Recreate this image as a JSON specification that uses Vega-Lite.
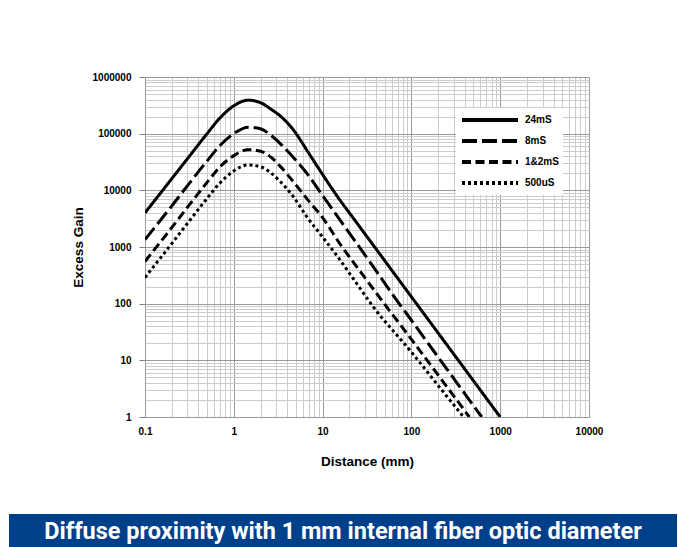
{
  "$schema": "https://vega.github.io/schema/vega-lite/v6.json",
  "background": "white",
  "padding": {"left": 9, "top": 72, "right": 0, "bottom": 0},
  "config": {"view": {"stroke": null}, "font": "Liberation Sans"},
  "datasets": {
    "curves": [
      {"series": "24mS", "distance": 0.1, "gain": 4000},
      {"series": "24mS", "distance": 0.2, "gain": 16000},
      {"series": "24mS", "distance": 0.3, "gain": 36000},
      {"series": "24mS", "distance": 0.5, "gain": 100000},
      {"series": "24mS", "distance": 0.7, "gain": 190000},
      {"series": "24mS", "distance": 1, "gain": 310000},
      {"series": "24mS", "distance": 1.45, "gain": 390000},
      {"series": "24mS", "distance": 2, "gain": 352000},
      {"series": "24mS", "distance": 2.7, "gain": 262000},
      {"series": "24mS", "distance": 3.4, "gain": 200000},
      {"series": "24mS", "distance": 4.66, "gain": 118000},
      {"series": "24mS", "distance": 7, "gain": 45000},
      {"series": "24mS", "distance": 10, "gain": 19000},
      {"series": "24mS", "distance": 15.6, "gain": 6800},
      {"series": "24mS", "distance": 20, "gain": 4015},
      {"series": "24mS", "distance": 37, "gain": 1089},
      {"series": "24mS", "distance": 50, "gain": 575},
      {"series": "24mS", "distance": 100, "gain": 132},
      {"series": "24mS", "distance": 200, "gain": 30.4},
      {"series": "24mS", "distance": 500, "gain": 4.35},
      {"series": "24mS", "distance": 1000, "gain": 1},
      {"series": "8mS", "distance": 0.1, "gain": 1350},
      {"series": "8mS", "distance": 0.2, "gain": 5300},
      {"series": "8mS", "distance": 0.3, "gain": 12000},
      {"series": "8mS", "distance": 0.5, "gain": 33000},
      {"series": "8mS", "distance": 0.7, "gain": 62000},
      {"series": "8mS", "distance": 1, "gain": 100000},
      {"series": "8mS", "distance": 1.45, "gain": 130000},
      {"series": "8mS", "distance": 2, "gain": 122000},
      {"series": "8mS", "distance": 2.7, "gain": 90000},
      {"series": "8mS", "distance": 3.5, "gain": 62000},
      {"series": "8mS", "distance": 5, "gain": 34000},
      {"series": "8mS", "distance": 6.6, "gain": 20300},
      {"series": "8mS", "distance": 10, "gain": 8100},
      {"series": "8mS", "distance": 15.6, "gain": 3030},
      {"series": "8mS", "distance": 25, "gain": 1080},
      {"series": "8mS", "distance": 37, "gain": 454},
      {"series": "8mS", "distance": 67.8, "gain": 117},
      {"series": "8mS", "distance": 100, "gain": 51},
      {"series": "8mS", "distance": 200, "gain": 11.4},
      {"series": "8mS", "distance": 620, "gain": 1},
      {"series": "1&2mS", "distance": 0.1, "gain": 556},
      {"series": "1&2mS", "distance": 0.2, "gain": 2200},
      {"series": "1&2mS", "distance": 0.3, "gain": 5000},
      {"series": "1&2mS", "distance": 0.5, "gain": 13800},
      {"series": "1&2mS", "distance": 0.7, "gain": 26000},
      {"series": "1&2mS", "distance": 1, "gain": 41000},
      {"series": "1&2mS", "distance": 1.45, "gain": 52000},
      {"series": "1&2mS", "distance": 2, "gain": 49000},
      {"series": "1&2mS", "distance": 2.7, "gain": 37000},
      {"series": "1&2mS", "distance": 3.3, "gain": 27000},
      {"series": "1&2mS", "distance": 5, "gain": 12500},
      {"series": "1&2mS", "distance": 7, "gain": 6450},
      {"series": "1&2mS", "distance": 10, "gain": 3300},
      {"series": "1&2mS", "distance": 15.6, "gain": 1150},
      {"series": "1&2mS", "distance": 25, "gain": 420},
      {"series": "1&2mS", "distance": 52.4, "gain": 89},
      {"series": "1&2mS", "distance": 100, "gain": 23.5},
      {"series": "1&2mS", "distance": 200, "gain": 5.5},
      {"series": "1&2mS", "distance": 450, "gain": 1},
      {"series": "500uS", "distance": 0.1, "gain": 290},
      {"series": "500uS", "distance": 0.2, "gain": 1150},
      {"series": "500uS", "distance": 0.3, "gain": 2600},
      {"series": "500uS", "distance": 0.5, "gain": 7200},
      {"series": "500uS", "distance": 0.7, "gain": 13500},
      {"series": "500uS", "distance": 1, "gain": 22000},
      {"series": "500uS", "distance": 1.45, "gain": 28000},
      {"series": "500uS", "distance": 2, "gain": 26000},
      {"series": "500uS", "distance": 2.7, "gain": 19500},
      {"series": "500uS", "distance": 3.3, "gain": 14500},
      {"series": "500uS", "distance": 4.66, "gain": 7800},
      {"series": "500uS", "distance": 6.6, "gain": 3470},
      {"series": "500uS", "distance": 10, "gain": 1500},
      {"series": "500uS", "distance": 15.6, "gain": 600},
      {"series": "500uS", "distance": 24, "gain": 231},
      {"series": "500uS", "distance": 37, "gain": 89},
      {"series": "500uS", "distance": 100, "gain": 14},
      {"series": "500uS", "distance": 200, "gain": 3.6},
      {"series": "500uS", "distance": 387, "gain": 1}
    ],
    "caption": [{"caption": "Diffuse proximity with 1 mm internal fiber optic diameter", "cx": 0.5, "cy": 0.5}]
  },
  "vconcat": [
    {
      "spacing": 61,
      "hconcat": [
        {"width": 1, "height": 1, "data": {"values": []}, "mark": "point"},
        {
          "width": 444,
          "height": 340,
          "data": {"name": "curves"},
          "mark": {"type": "line", "color": "black", "strokeWidth": 3, "strokeCap": "butt", "interpolate": "monotone", "clip": true},
          "encoding": {
            "x": {
              "field": "distance", "type": "quantitative", "title": "Distance (mm)",
              "scale": {"type": "log", "domain": [0.1, 10000], "nice": false},
              "axis": {
                "values": [0.1,0.2,0.3,0.4,0.5,0.6,0.7,0.8,0.9,1,2,3,4,5,6,7,8,9,10,20,30,40,50,60,70,80,90,100,200,300,400,500,600,700,800,900,1000,2000,3000,4000,5000,6000,7000,8000,9000,10000],
                "labelExpr": "datum.value == 0.1 ? '0.1' : (indexof([1,10,100,1000,10000], datum.value) >= 0 ? format(datum.value, 'd') : '')",
                "labelOverlap": false, "labelFlush": false,
                "labelFont": "Liberation Sans", "labelFontSize": 10, "labelFontWeight": "bold", "labelColor": "black",
                "labelPadding": 9,
                "ticks": false,
                "grid": true,
                "gridColor": {"condition": {"test": "indexof([0.1,1,10,100,1000,10000], datum.value) >= 0", "value": "#9a9a9a"}, "value": "#cccccc"},
                "gridWidth": 1,
                "domainColor": "#9a9a9a",
                "titleFont": "Liberation Sans", "titleFontSize": 13.5, "titleFontWeight": "bold", "titleColor": "black", "titlePadding": 18
              }
            },
            "y": {
              "field": "gain", "type": "quantitative", "title": "Excess Gain",
              "scale": {"type": "log", "domain": [1, 1000000], "nice": false},
              "axis": {
                "values": [1,2,3,4,5,6,7,8,9,10,20,30,40,50,60,70,80,90,100,200,300,400,500,600,700,800,900,1000,2000,3000,4000,5000,6000,7000,8000,9000,10000,20000,30000,40000,50000,60000,70000,80000,90000,100000,200000,300000,400000,500000,600000,700000,800000,900000,1000000],
                "labelExpr": "indexof([1,10,100,1000,10000,100000,1000000], datum.value) >= 0 ? format(datum.value, 'd') : ''",
                "labelOverlap": false,
                "labelFont": "Liberation Sans", "labelFontSize": 10, "labelFontWeight": "bold", "labelColor": "black",
                "labelPadding": 8,
                "ticks": true, "tickSize": 6, "tickColor": "#808080",
                "tickOpacity": {"condition": {"test": "indexof([1,10,100,1000,10000,100000,1000000], datum.value) >= 0", "value": 1}, "value": 0},
                "grid": true,
                "gridColor": {"condition": {"test": "indexof([1,10,100,1000,10000,100000,1000000], datum.value) >= 0", "value": "#9a9a9a"}, "value": "#cccccc"},
                "gridWidth": 1,
                "domainColor": "#9a9a9a",
                "titleFont": "Liberation Sans", "titleFontSize": 13.5, "titleFontWeight": "bold", "titleColor": "black", "titlePadding": 7
              }
            },
            "strokeDash": {
              "field": "series", "type": "nominal",
              "scale": {"domain": ["24mS", "8mS", "1&2mS", "500uS"], "range": [[1, 0], [15, 5], [9, 4.5], [3, 3]]},
              "legend": {
                "orient": "none", "legendX": 447, "legendY": 31,
                "title": null,
                "symbolType": "stroke", "symbolSize": 3136, "symbolStrokeWidth": 4, "symbolStrokeColor": "black",
                "clipHeight": 16, "rowPadding": 5,
                "labelFont": "Liberation Sans", "labelFontSize": 10, "labelFontWeight": "bold", "labelColor": "black", "labelOffset": 5,
                "fillColor": "white", "padding": 4
              }
            }
          }
        }
      ]
    },
    {
      "width": 668,
      "height": 35,
      "view": {"fill": "#003f8a", "stroke": null},
      "data": {"name": "caption"},
      "mark": {"type": "text", "align": "center", "baseline": "middle", "font": "Roboto", "fontWeight": "bold", "fontSize": 23.5, "color": "white"},
      "encoding": {
        "x": {"field": "cx", "type": "quantitative", "scale": {"domain": [0, 1]}, "axis": null},
        "y": {"field": "cy", "type": "quantitative", "scale": {"domain": [0, 1]}, "axis": null},
        "text": {"field": "caption", "type": "nominal"}
      }
    }
  ],
  "spacing": 46
}
